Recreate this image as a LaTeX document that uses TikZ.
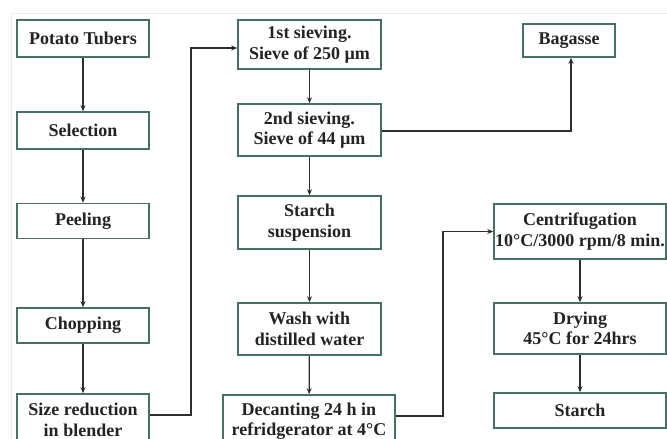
\documentclass[tikz,border=0pt]{standalone}
\usepackage{fontspec}
\setmainfont{Liberation Serif}
\usetikzlibrary{arrows.meta}
\definecolor{boxline}{RGB}{70,112,102}
\definecolor{txt}{RGB}{35,35,35}
\definecolor{conn}{RGB}{45,45,45}
\tikzset{
  procbox/.style={draw=boxline, line width=1.6pt, fill=white, align=center, inner sep=0pt,
    font=\fontsize{18}{20.5}\selectfont\bfseries, text=txt},
  arr/.style={draw=conn, line width=1.2pt, -{Stealth[length=6pt,width=5pt]}},
  ln/.style={draw=conn, line width=1.2pt}
}
\begin{document}
\begin{tikzpicture}[x=1pt,y=-1pt]
\useasboundingbox (0,0) rectangle (667,439);
\clip (0,0) rectangle (667,439);
\fill[white] (0,0) rectangle (667,439);
\draw[black!8, line width=1pt] (11,439) -- (11,13) -- (667,13);
% left column
\node[procbox, minimum width=132pt, minimum height=37pt] (A) at (83,38.5) {Potato Tubers};
\node[procbox, minimum width=132pt, minimum height=37pt] (B) at (83,130.5) {Selection};
\node[procbox, minimum width=132pt, minimum height=35pt] (C) at (83,221) {Peeling};
\node[procbox, minimum width=132pt, minimum height=35pt] (D) at (83,325.5) {Chopping};
\node[procbox, minimum width=132pt, minimum height=52pt] (E) at (83,420) {Size reduction\\in blender};
% middle column
\node[procbox, minimum width=143pt, minimum height=49pt] (F) at (309.5,44.5) {1st sieving.\\Sieve of 250 µm};
\node[procbox, minimum width=143pt, minimum height=52pt] (G) at (309.5,130) {2nd sieving.\\Sieve of 44 µm};
\node[procbox, minimum width=143pt, minimum height=53pt] (H) at (309.5,222.5) {Starch\\suspension};
\node[procbox, minimum width=143pt, minimum height=52pt] (I) at (309.5,329) {Wash with\\distilled water};
\node[procbox, minimum width=172pt, minimum height=52pt] (J) at (309,421) {Decanting 24 h in\\refridgerator at 4°C};
% right column
\node[procbox, minimum width=92pt, minimum height=33pt] (K) at (569,40.5) {Bagasse};
\node[procbox, minimum width=172pt, minimum height=55pt] (L) at (580,231.5) {Centrifugation\\10°C/3000 rpm/8 min.};
\node[procbox, minimum width=172pt, minimum height=51pt] (M) at (580,328.5) {Drying\\45°C for 24hrs};
\node[procbox, minimum width=172pt, minimum height=35pt] (N) at (580,410.5) {Starch};
% vertical arrows
\draw[arr] (A) -- (B);
\draw[arr] (B) -- (C);
\draw[arr] (C) -- (D);
\draw[arr] (D) -- (E);
\draw[arr] (F) -- (G);
\draw[arr] (G) -- (H);
\draw[arr] (H) -- (I);
\draw[arr] (I) -- (J);
\draw[arr] (L) -- (M);
\draw[arr] (M) -- (N);
% elbow connectors
\coordinate (e1) at (191,415);
\draw[arr] ([yshift=5pt]E.east) -- (e1) |- ([yshift=-3.5pt]F.west);
\draw[arr] ([yshift=-1pt]G.east) -| ([xshift=2pt]K.south);
\coordinate (e2) at (443,416);
\draw[arr] ([yshift=5pt]J.east) -- (e2) |- (L.west);
\end{tikzpicture}
\end{document}
